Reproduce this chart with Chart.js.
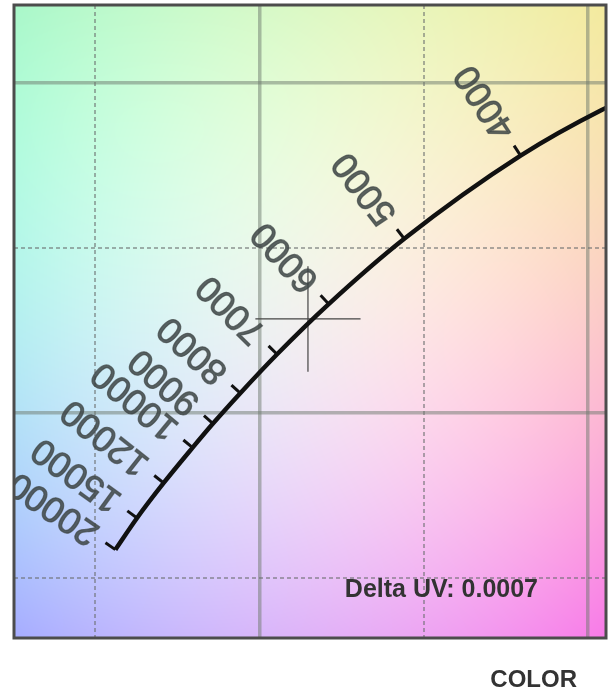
<!DOCTYPE html>
<html>
<head>
<meta charset="utf-8">
<script src="https://cdn.jsdelivr.net/npm/chart.js@4.4.0/dist/chart.umd.min.js"></script>
<style>
  html, body { margin: 0; padding: 0; background: #fff; }
  #wrap { width: 610px; height: 694px; }
</style>
</head>
<body>
<div id="wrap"><canvas id="myChart"></canvas></div>
<script>
// planckian locus (CIE x / y), last point runs off the right edge
var cct = ['20000', '15000', '12000', '10000', '9000', '8000', '7000', '6000', '5000', '4000', '', ''];
var locusX = [0.2562, 0.2628, 0.2709, 0.2797, 0.2859, 0.2942, 0.3054, 0.3211, 0.3441, 0.3795, 0.4043, 0.4090];
var locusY = [0.2586, 0.2682, 0.2788, 0.2895, 0.2968, 0.3060, 0.3178, 0.3330, 0.3528, 0.3780, 0.3919, 0.3940];

// grid values, solid on the tenths and dashed in between
var gridTicks = [0.25, 0.30, 0.35, 0.40];

// measured point
var pointX = 0.3148;
var pointY = 0.3285;
var crossSize = 0.016;
var deltaUV = '0.0007';

// background colours (corners / edges / centre)
var bgColors = [
  ['#a9f7c9', '#dcf8c4', '#f3ea9e'],
  ['#b4eff0', '#f3efee', '#fbc9c8'],
  ['#a6acff', '#dfb2f8', '#f87ae8']
];

function hex(c) {
  return [parseInt(c.substr(1, 2), 16), parseInt(c.substr(3, 2), 16), parseInt(c.substr(5, 2), 16)];
}
var bgRgb = bgColors.map(function (row) { return row.map(hex); });

function lagr(u) {
  return [2 * (u - 0.5) * (u - 1), -4 * u * (u - 1), 2 * u * (u - 0.5)];
}

var bgCache = null;
function makeBackground(w, h) {
  var c = document.createElement('canvas');
  c.width = w;
  c.height = h;
  var cx = c.getContext('2d');
  var img = cx.createImageData(w, h);
  for (var j = 0; j < h; j++) {
    var wy = lagr(j / (h - 1));
    for (var i = 0; i < w; i++) {
      var wx = lagr(i / (w - 1));
      var k = (j * w + i) * 4;
      for (var ch = 0; ch < 3; ch++) {
        var s = 0;
        for (var r = 0; r < 3; r++) {
          for (var q = 0; q < 3; q++) s += wy[r] * wx[q] * bgRgb[r][q][ch];
        }
        img.data[k + ch] = Math.max(0, Math.min(255, s));
      }
      img.data[k + 3] = 255;
    }
  }
  cx.putImageData(img, 0, 0);
  return c;
}

var background = {
  id: 'background',
  beforeDraw: function (chart) {
    var ctx = chart.ctx, a = chart.chartArea;
    var w = Math.round(a.right - a.left), h = Math.round(a.bottom - a.top);
    if (!bgCache || bgCache.width !== w || bgCache.height !== h) bgCache = makeBackground(w, h);
    ctx.drawImage(bgCache, a.left, a.top, a.right - a.left, a.bottom - a.top);
  }
};

// ticks and rotated CCT labels along the locus
var locusLabels = {
  id: 'locusLabels',
  afterDatasetsDraw: function (chart) {
    var ctx = chart.ctx, xs = chart.scales.x, ys = chart.scales.y, a = chart.chartArea;
    var pts = locusX.map(function (v, i) {
      return { x: xs.getPixelForValue(v), y: ys.getPixelForValue(locusY[i]) };
    });
    ctx.save();
    ctx.beginPath();
    ctx.rect(a.left, a.top, a.right - a.left, a.bottom - a.top);
    ctx.clip();
    pts.forEach(function (p, i) {
      if (!cct[i]) return;
      var p0 = pts[Math.max(i - 1, 0)], p1 = pts[Math.min(i + 1, pts.length - 1)];
      var dx = p1.x - p0.x, dy = p1.y - p0.y;
      var len = Math.sqrt(dx * dx + dy * dy);
      var nx = dy / len, ny = -dx / len;

      ctx.strokeStyle = '#111';
      ctx.lineWidth = 3;
      ctx.beginPath();
      ctx.moveTo(p.x, p.y);
      ctx.lineTo(p.x + nx * 12, p.y + ny * 12);
      ctx.stroke();

      ctx.save();
      ctx.translate(p.x + nx * 24, p.y + ny * 24);
      ctx.rotate(Math.atan2(ny, nx));
      ctx.filter = 'blur(0.7px)';
      ctx.font = '36px "Liberation Sans", Arial, sans-serif';
      ctx.fillStyle = 'rgba(62, 70, 70, 0.85)';
      ctx.strokeStyle = 'rgba(62, 70, 70, 0.7)';
      ctx.lineWidth = 1.2;
      ctx.textAlign = 'left';
      ctx.textBaseline = 'middle';
      ctx.fillText(cct[i], 0, 0);
      ctx.strokeText(cct[i], 0, 0);
      ctx.restore();
    });
    ctx.restore();
  }
};

var frameText = {
  id: 'frameText',
  afterDraw: function (chart) {
    var ctx = chart.ctx, a = chart.chartArea;
    ctx.save();
    ctx.strokeStyle = '#4c4c4c';
    ctx.lineWidth = 3;
    ctx.strokeRect(a.left, a.top, a.right - a.left, a.bottom - a.top);

    ctx.fillStyle = '#333';
    ctx.font = 'bold 25px "Liberation Sans", Arial, sans-serif';
    ctx.textAlign = 'right';
    ctx.textBaseline = 'middle';
    ctx.fillText('Delta UV: ' + deltaUV, a.right - 68, 590);
    ctx.font = 'bold 24px "Liberation Sans", Arial, sans-serif';
    ctx.fillText('COLOR', 577, 680);
    ctx.restore();
  }
};

function isMajor(v) {
  return Math.round(v * 100) % 10 === 0;
}
function gridColor(ctx) {
  return isMajor(ctx.tick.value) ? 'rgba(110, 122, 110, 0.5)' : 'rgba(105, 110, 110, 0.55)';
}
function gridWidth(ctx) {
  return isMajor(ctx.tick.value) ? 3.5 : 2;
}
function gridDash(ctx) {
  if (!ctx.tick) return [];
  return isMajor(ctx.tick.value) ? [] : [4, 3];
}

function axis(min, max) {
  return {
    type: 'linear',
    min: min,
    max: max,
    afterBuildTicks: function (ax) {
      ax.ticks = gridTicks.map(function (v) { return { value: v }; });
    },
    ticks: { display: false },
    grid: { color: gridColor, lineWidth: gridWidth, drawTicks: false },
    border: { display: false, dash: gridDash }
  };
}

var ctx = document.getElementById('myChart').getContext('2d');
var chart = new Chart(ctx, {
  type: 'scatter',
  data: {
    datasets: [{
      data: locusX.map(function (v, i) { return { x: v, y: locusY[i] }; }),
      showLine: true,
      borderColor: '#111',
      borderWidth: 4.5,
      pointRadius: 0,
      cubicInterpolationMode: 'monotone'
    }, {
      data: [{ x: pointX - crossSize, y: pointY }, { x: pointX + crossSize, y: pointY }],
      showLine: true,
      borderColor: '#444',
      borderWidth: 1.2,
      pointRadius: 0
    }, {
      data: [{ x: pointX, y: pointY - crossSize }, { x: pointX, y: pointY + crossSize }],
      showLine: true,
      borderColor: '#444',
      borderWidth: 1.2,
      pointRadius: 0
    }]
  },
  options: {
    responsive: true,
    maintainAspectRatio: false,
    animation: false,
    layout: { padding: { left: 14, right: 4, top: 5, bottom: 56 } },
    plugins: { legend: { display: false }, tooltip: { enabled: false } },
    scales: {
      x: axis(0.22536, 0.40548),
      y: axis(0.23182, 0.42364)
    }
  },
  plugins: [background, locusLabels, frameText]
});
</script>
</body>
</html>
